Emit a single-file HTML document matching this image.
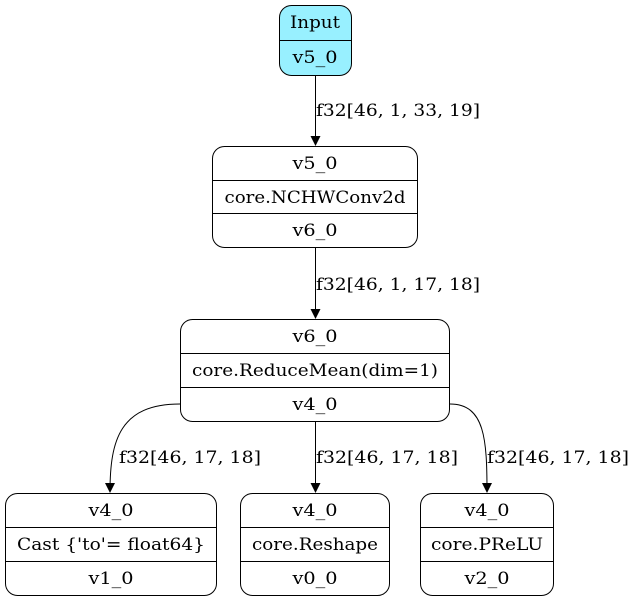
<!DOCTYPE html>
<html><head><style>body{margin:0;background:#fff}svg{display:block}text{font-family:"DejaVu Serif","Liberation Serif",serif;font-size:16.5px;fill:#000}</style></head><body>
<svg width="633" height="601" viewBox="0 0 633 601" xmlns="http://www.w3.org/2000/svg">
<defs><marker id="a" markerWidth="10" markerHeight="10" refX="9" refY="5" orient="auto" markerUnits="userSpaceOnUse"><path d="M0,0 L10,5 L0,10z" fill="#000"/></marker></defs>
<g fill="none" stroke="#000" stroke-width="1">
<rect x="279.5" y="5.5" width="72" height="70" rx="12" fill="#98f0ff"/>
<line x1="279.5" y1="40.5" x2="351.5" y2="40.5"/>
<rect x="212.5" y="146.5" width="205" height="101" rx="12"/>
<line x1="212.5" y1="180.5" x2="417.5" y2="180.5"/><line x1="212.5" y1="213.5" x2="417.5" y2="213.5"/>
<rect x="180.5" y="319.5" width="269" height="102" rx="12"/>
<line x1="180.5" y1="353.5" x2="449.5" y2="353.5"/><line x1="180.5" y1="387.5" x2="449.5" y2="387.5"/>
<rect x="5.5" y="493.5" width="211" height="102" rx="12"/>
<line x1="5.5" y1="527.5" x2="216.5" y2="527.5"/><line x1="5.5" y1="561.5" x2="216.5" y2="561.5"/>
<rect x="240.5" y="493.5" width="149" height="102" rx="12"/>
<line x1="240.5" y1="527.5" x2="389.5" y2="527.5"/><line x1="240.5" y1="561.5" x2="389.5" y2="561.5"/>
<rect x="420.5" y="493.5" width="133" height="102" rx="12"/>
<line x1="420.5" y1="527.5" x2="553.5" y2="527.5"/><line x1="420.5" y1="561.5" x2="553.5" y2="561.5"/>
<line x1="315.5" y1="76" x2="315.5" y2="145" marker-end="url(#a)"/>
<line x1="315.5" y1="248" x2="315.5" y2="318" marker-end="url(#a)"/>
<line x1="315.5" y1="422" x2="315.5" y2="492" marker-end="url(#a)"/>
<path d="M180,404 C120,404 110,440 110,492" marker-end="url(#a)"/>
<path d="M450,404 C485,404 487,440 487,492" marker-end="url(#a)"/>
</g>
<g text-anchor="middle">
<text x="315" y="28" textLength="50" lengthAdjust="spacingAndGlyphs">Input</text><text x="315" y="63" textLength="45" lengthAdjust="spacingAndGlyphs">v5_0</text>
<text x="315" y="169" textLength="45" lengthAdjust="spacingAndGlyphs">v5_0</text><text x="315" y="203" textLength="181" lengthAdjust="spacingAndGlyphs">core.NCHWConv2d</text><text x="315" y="236" textLength="45" lengthAdjust="spacingAndGlyphs">v6_0</text>
<text x="315" y="342" textLength="45" lengthAdjust="spacingAndGlyphs">v6_0</text><text x="315" y="376" textLength="246" lengthAdjust="spacingAndGlyphs">core.ReduceMean(dim=1)</text><text x="315" y="410" textLength="45" lengthAdjust="spacingAndGlyphs">v4_0</text>
<text x="111" y="516" textLength="45" lengthAdjust="spacingAndGlyphs">v4_0</text><text x="111" y="550" textLength="188" lengthAdjust="spacingAndGlyphs">Cast {'to'= float64}</text><text x="111" y="584" textLength="45" lengthAdjust="spacingAndGlyphs">v1_0</text>
<text x="315" y="516" textLength="45" lengthAdjust="spacingAndGlyphs">v4_0</text><text x="315" y="550" textLength="126" lengthAdjust="spacingAndGlyphs">core.Reshape</text><text x="315" y="584" textLength="45" lengthAdjust="spacingAndGlyphs">v0_0</text>
<text x="487" y="516" textLength="45" lengthAdjust="spacingAndGlyphs">v4_0</text><text x="487" y="550" textLength="112" lengthAdjust="spacingAndGlyphs">core.PReLU</text><text x="487" y="584" textLength="45" lengthAdjust="spacingAndGlyphs">v2_0</text>
</g>
<text x="316" y="116" textLength="164" lengthAdjust="spacingAndGlyphs">f32[46, 1, 33, 19]</text>
<text x="316" y="290" textLength="164" lengthAdjust="spacingAndGlyphs">f32[46, 1, 17, 18]</text>
<text x="119" y="463" textLength="142" lengthAdjust="spacingAndGlyphs">f32[46, 17, 18]</text>
<text x="316" y="463" textLength="142" lengthAdjust="spacingAndGlyphs">f32[46, 17, 18]</text>
<text x="487" y="463" textLength="142" lengthAdjust="spacingAndGlyphs">f32[46, 17, 18]</text>
</svg>
</body></html>
